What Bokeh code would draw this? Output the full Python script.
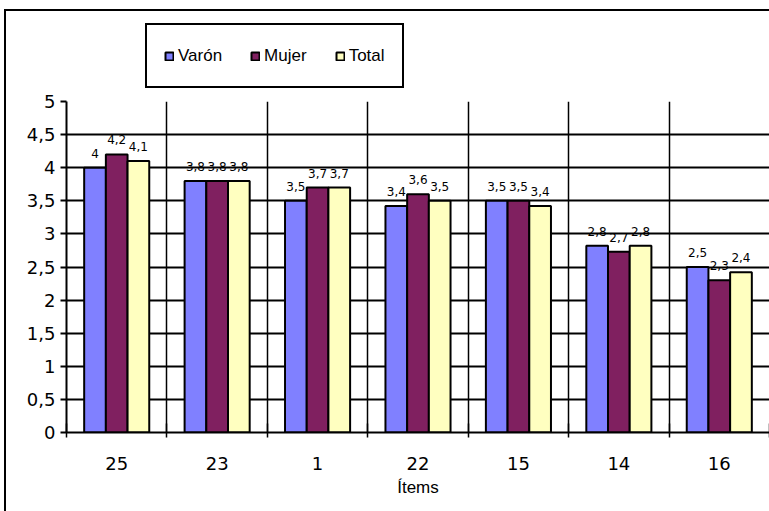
from bokeh.plotting import figure
from bokeh.layouts import column
from bokeh.models import (ColumnDataSource, Range1d, FixedTicker, Legend, LegendItem,
                          LabelSet)
from bokeh.core.properties import value
from bokeh.embed import file_html
from bokeh.resources import INLINE

# ---- data ----
items = ["25", "23", "1", "22", "15", "14", "16"]
varon = [4.0, 3.8, 3.5, 3.42, 3.5, 2.82, 2.5]
mujer = [4.2, 3.8, 3.7, 3.6, 3.5, 2.73, 2.3]
total = [4.1, 3.8, 3.7, 3.5, 3.42, 2.82, 2.42]
series_names = ["Varón", "Mujer", "Total"]
y_ticks = [0, 0.5, 1, 1.5, 2, 2.5, 3, 3.5, 4, 4.5, 5]
y_tick_labels = ["0", "0,5", "1", "1,5", "2", "2,5", "3", "3,5", "4", "4,5", "5"]

colors = ["#8080FF", "#802060", "#FFFFC0"]
series = [varon, mujer, total]


def fmt(v):
    s = f"{v:.1f}".replace(".", ",")
    return s[:-2] if s.endswith(",0") else s


W = 763

# ---- main chart ----
p = figure(width=W, height=420, x_range=Range1d(0, len(items)), y_range=Range1d(0, 5),
           output_backend="svg", toolbar_location=None,
           min_border_left=60, min_border_top=10, min_border_right=0, min_border_bottom=79)
p.outline_line_color = None
p.background_fill_color = "white"
p.border_fill_color = "white"

bar_w = 0.216
offsets = [-bar_w, 0.0, bar_w]
centers = [i + 0.5 for i in range(len(items))]
sources = []
for name, vals, col, off in zip(series_names, series, colors, offsets):
    src = ColumnDataSource(dict(x=[c + off for c in centers], top=vals,
                                lab=[fmt(v) for v in vals]))
    sources.append(src)
    p.vbar(x="x", top="top", width=bar_w, source=src, fill_color=col,
           line_color="black", line_width=2)
    p.add_layout(LabelSet(x="x", y="top", text="lab", source=src, text_align="center",
                          text_baseline="bottom", y_offset=10,
                          text_font=value("DejaVu Sans"),
                          text_font_size=value("12px"), text_color=value("black")))

# axes
p.yaxis.ticker = FixedTicker(ticks=y_ticks)
p.yaxis.major_label_overrides = {t: l for t, l in zip(y_ticks, y_tick_labels)}
p.yaxis.axis_line_width = 2
p.yaxis.major_tick_line_width = 2
p.yaxis.major_tick_in = 0
p.yaxis.major_tick_out = 6
p.yaxis.minor_tick_line_color = None
p.yaxis.major_label_standoff = 5
p.yaxis.major_label_text_font = "DejaVu Sans"
p.yaxis.major_label_text_font_size = "18px"
p.yaxis.major_label_text_color = "black"
p.yaxis.axis_line_color = "black"
p.yaxis.major_tick_line_color = "black"

p.xaxis.ticker = FixedTicker(ticks=centers, minor_ticks=list(range(len(items) + 1)))
p.xaxis.major_label_overrides = {c: it for c, it in zip(centers, items)}
p.xaxis.major_tick_line_color = None
p.xaxis.major_tick_in = 0
p.xaxis.major_tick_out = 0
p.xaxis.minor_tick_line_color = "black"
p.xaxis.minor_tick_line_width = 1.5
p.xaxis.minor_tick_in = 9
p.xaxis.minor_tick_out = 5
p.xaxis.axis_line_width = 2
p.xaxis.axis_line_color = "black"
p.xaxis.major_label_standoff = 19
p.xaxis.major_label_text_font = "DejaVu Sans"
p.xaxis.major_label_text_font_size = "18px"
p.xaxis.major_label_text_color = "black"
p.xaxis.axis_label = "Ítems"
p.xaxis.axis_label_text_font = "Liberation Sans"
p.xaxis.axis_label_text_font_size = "17px"
p.xaxis.axis_label_text_font_style = "normal"
p.xaxis.axis_label_text_color = "black"
p.xaxis.axis_label_standoff = 5

# grids
p.ygrid.ticker = FixedTicker(ticks=y_ticks)
p.ygrid.grid_line_color = "black"
p.ygrid.grid_line_width = 2
p.xgrid.ticker = FixedTicker(ticks=list(range(len(items) + 1)))
p.xgrid.grid_line_color = "black"
p.xgrid.grid_line_width = 1.5

# ---- legend strip: hidden renderers supply only the legend swatches ----
lg = figure(width=W, height=80, x_range=Range1d(0, len(items)), y_range=Range1d(-2, -1),
            output_backend="svg", toolbar_location=None,
            x_axis_location=None, y_axis_location=None, min_border=0)
lg.outline_line_color = None
lg.xgrid.visible = False
lg.ygrid.visible = False
lg_renderers = []
for src, col in zip(sources, colors):
    lg_renderers.append(lg.vbar(x="x", top="top", width=bar_w, source=src, fill_color=col,
                                line_color="black", line_width=2, visible=False))
legend = Legend(items=[LegendItem(label=n, renderers=[r])
                       for n, r in zip(series_names, lg_renderers)],
                orientation="horizontal", location=(79, 3),
                border_line_color="black", border_line_width=2, border_line_alpha=1,
                background_fill_color="white", background_fill_alpha=1,
                inactive_fill_alpha=0,
                label_text_font="Liberation Sans",
                label_text_font_size="17px", label_text_color="black",
                glyph_width=10, glyph_height=10, label_standoff=4, spacing=28,
                padding=17, label_height=27, margin=0)
lg.add_layout(legend, "center")

layout = column(lg, p, spacing=0)
layout.styles = {"border-left": "2px solid black", "border-top": "2px solid black",
                 "margin-left": "4px", "margin-top": "9px"}

open("out.html", "w").write(file_html(layout, INLINE))
